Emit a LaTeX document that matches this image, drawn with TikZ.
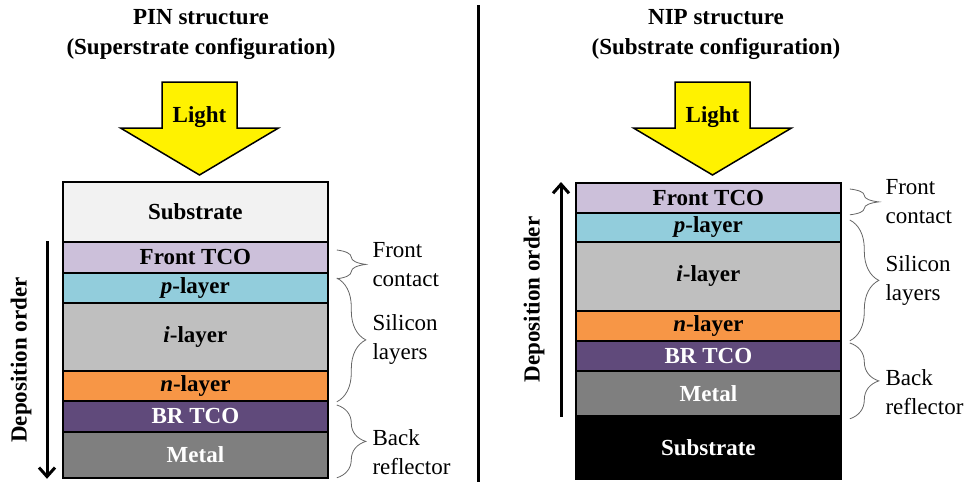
\documentclass[tikz,border=0pt]{standalone}
\usepackage{fontspec}
\setmainfont{Liberation Serif}
\usepackage{tikz}
\usetikzlibrary{calc, arrows.meta, decorations.pathreplacing}

\definecolor{subgray}{HTML}{F2F2F2}
\definecolor{tcolav}{HTML}{CCC0DA}
\definecolor{pblue}{HTML}{92CDDC}
\definecolor{igray}{HTML}{BFBFBF}
\definecolor{norange}{HTML}{F79646}
\definecolor{brpurple}{HTML}{604A7B}
\definecolor{metalgray}{HTML}{7F7F7F}

\begin{document}
\begin{tikzpicture}[x=1pt, y=-1pt,
  layer/.style={draw=black, line width=1.8pt, inner sep=0pt, minimum width=265pt,
                anchor=north west, font=\fontsize{23}{26}\selectfont\bfseries},
  title/.style={align=center, font=\fontsize{23}{30}\selectfont\bfseries},
  sidelabel/.style={align=left, anchor=west, font=\fontsize{23}{29}\selectfont},
  grp/.style={decorate, decoration={brace, amplitude=29pt}, draw=black!60, line width=0.8pt},
  order/.style={line width=3pt, -{Straight Barb[length=9pt, width=16pt, line width=3pt]}},
  sunlight/.style={fill=yellow, draw=black, line width=1.5pt, line join=miter}]

  \useasboundingbox (0, 0) rectangle (972, 482);

  \draw[line width=3pt] (478, 5) -- (478, 482);

  \begin{scope}[shift={(0, 0)}]
    \pgfmathsetmacro{\cx}{199.5}
    \pgfmathsetmacro{\sw}{37.5}
    \pgfmathsetmacro{\hw}{79}

    \node[title] (Ltitle) at (201, 35) {PIN structure\\(Superstrate configuration)};

    \draw[sunlight] ({\cx - \sw}, 82) -- ({\cx + \sw}, 82) -- ({\cx + \sw}, 128)
      -- ({\cx + \hw}, 128) -- (\cx, 175) -- ({\cx - \hw}, 128) -- ({\cx - \sw}, 128) -- cycle;
    \node[font=\fontsize{23}{26}\selectfont\bfseries] (Llight) at (\cx, 117) {Light};

    \foreach \n/\t/\h/\c/\tc/\lab in {sub/181/60/subgray/black/Substrate,
                                      ftco/241/31/tcolav/black/Front TCO,
                                      play/272/30/pblue/black/\textit{p}-layer,
                                      ilay/302/68/igray/black/\textit{i}-layer,
                                      nlay/370/30/norange/black/\textit{n}-layer,
                                      brtco/400/31/brpurple/white/BR TCO,
                                      metal/431/46/metalgray/white/Metal} {
      \node[layer, fill=\c, text=\tc, minimum height=\h] (L\n) at (62, \t) {\lab};
    }

    \draw[order] ([xshift=-15pt]Lftco.north west) -- ([xshift=-15pt]Lmetal.south west);
    \node[rotate=90, font=\fontsize{23}{26}\selectfont\bfseries] (Lorder)
      at ($(Lftco.north west)!0.5!(Lmetal.south west) + (-41, 0)$) {Deposition order};

    \draw[grp] ([xshift=8pt, yshift=-9pt]Lftco.north east) -- ([xshift=8pt, yshift=-5pt]Lftco.south east)
      node[sidelabel, midway, xshift=32pt] (Lfront) {Front\\contact};
    \draw[grp] ([xshift=8pt, yshift=-6pt]Lplay.north east) -- ([xshift=8pt]Lnlay.south east)
      node[sidelabel, midway, xshift=32pt] (Lsilicon) {Silicon\\layers};
    \draw[grp] ([xshift=8pt, yshift=-5pt]Lbrtco.north east) -- ([xshift=8pt, yshift=1pt]Lmetal.south east)
      node[sidelabel, midway, xshift=32pt, yshift=-11pt] (Lback) {Back\\reflector};
  \end{scope}

  \begin{scope}[shift={(513, 0)}]
    \pgfmathsetmacro{\cx}{199.5}
    \pgfmathsetmacro{\sw}{37.5}
    \pgfmathsetmacro{\hw}{79}

    \node[title] (Rtitle) at (203, 35) {NIP structure\\(Substrate configuration)};

    \draw[sunlight] ({\cx - \sw}, 82) -- ({\cx + \sw}, 82) -- ({\cx + \sw}, 128)
      -- ({\cx + \hw}, 128) -- (\cx, 175) -- ({\cx - \hw}, 128) -- ({\cx - \sw}, 128) -- cycle;
    \node[font=\fontsize{23}{26}\selectfont\bfseries] (Rlight) at (\cx, 117) {Light};

    \foreach \n/\t/\h/\c/\tc/\lab in {ftco/182/30/tcolav/black/Front TCO,
                                      play/212/29/pblue/black/\textit{p}-layer,
                                      ilay/241/69/igray/black/\textit{i}-layer,
                                      nlay/310/30/norange/black/\textit{n}-layer,
                                      brtco/340/30/brpurple/white/BR TCO,
                                      metal/370/45/metalgray/white/Metal,
                                      sub/415/63/black/white/Substrate} {
      \node[layer, fill=\c, text=\tc, minimum height=\h] (R\n) at (62, \t) {\lab};
    }

    \draw[order] ([xshift=-14pt]Rmetal.south west) -- ([xshift=-14pt]Rftco.north west);
    \node[rotate=90, font=\fontsize{23}{26}\selectfont\bfseries] (Rorder)
      at ($(Rftco.north west)!0.5!(Rmetal.south west) + (-41, 0)$) {Deposition order};

    \draw[grp] ([xshift=8pt, yshift=-7pt]Rftco.north east) -- ([xshift=8pt, yshift=-1pt]Rftco.south east)
      node[sidelabel, midway, xshift=32pt] (Rfront) {Front\\contact};
    \draw[grp] ([xshift=8pt, yshift=-8pt]Rplay.north east) -- ([xshift=8pt, yshift=1pt]Rnlay.south east)
      node[sidelabel, midway, xshift=32pt] (Rsilicon) {Silicon\\layers};
    \draw[grp] ([xshift=8pt, yshift=-3pt]Rbrtco.north east) -- ([xshift=8pt, yshift=-2pt]Rmetal.south east)
      node[sidelabel, midway, xshift=32pt, yshift=-11pt] (Rback) {Back\\reflector};
  \end{scope}

\end{tikzpicture}
\end{document}
